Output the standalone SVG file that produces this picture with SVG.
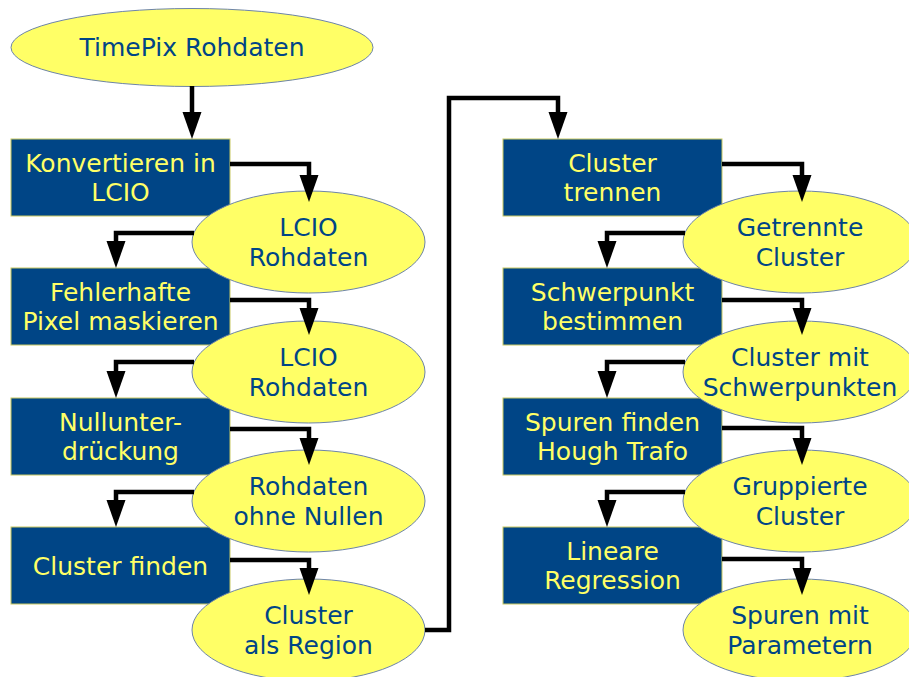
<svg xmlns="http://www.w3.org/2000/svg" width="909" height="677" viewBox="0 0 909 677">
  <style>
    .step rect { fill: #004586; stroke: #c8c860; stroke-width: 1; }
    .step text { fill: #ffff66; }
    .data ellipse { fill: #ffff66; stroke: #6d84a8; stroke-width: 1; }
    .data text { fill: #004586; }
    text { font-family: "DejaVu Sans", Verdana, sans-serif; font-size: 25px; text-anchor: middle; }
    #connectors path { fill: none; stroke: #000; stroke-width: 4.5; stroke-linejoin: miter; marker-end: url(#arrow); }
  </style>
  <defs>
    <marker id="arrow" markerUnits="userSpaceOnUse" markerWidth="28" markerHeight="20" refX="0" refY="10" orient="auto" overflow="visible">
      <path d="M0,0.5 L27,10 L0,19.5 Z" fill="#000"/>
    </marker>
  </defs>

  <rect width="909" height="677" fill="#fff"/>

  <!-- source data -->
  <g id="timepix" class="data">
    <ellipse cx="192" cy="47.5" rx="181" ry="39"/>
    <text x="192" y="56">TimePix Rohdaten</text>
  </g>

  <!-- left column: processing steps -->
  <g id="konvertieren" class="step">
    <rect x="11" y="139" width="219" height="77"/>
    <text x="120.5" y="172">Konvertieren in</text>
    <text x="120.5" y="201">LCIO</text>
  </g>
  <g id="maskieren" class="step">
    <rect x="11" y="268" width="219" height="77"/>
    <text x="120.5" y="301">Fehlerhafte</text>
    <text x="120.5" y="330">Pixel maskieren</text>
  </g>
  <g id="nullunterdrueckung" class="step">
    <rect x="11" y="398" width="219" height="77"/>
    <text x="120.5" y="431">Nullunter-</text>
    <text x="120.5" y="460">drückung</text>
  </g>
  <g id="cluster-finden" class="step">
    <rect x="11" y="527" width="219" height="77"/>
    <text x="120.5" y="574.5">Cluster finden</text>
  </g>

  <!-- left column: intermediate data -->
  <g id="lcio-rohdaten-1" class="data">
    <ellipse cx="308.5" cy="242" rx="116.5" ry="51"/>
    <text x="308.5" y="236">LCIO</text>
    <text x="308.5" y="266">Rohdaten</text>
  </g>
  <g id="lcio-rohdaten-2" class="data">
    <ellipse cx="308.5" cy="372" rx="116.5" ry="51"/>
    <text x="308.5" y="366">LCIO</text>
    <text x="308.5" y="396">Rohdaten</text>
  </g>
  <g id="ohne-nullen" class="data">
    <ellipse cx="308.5" cy="501" rx="116.5" ry="51"/>
    <text x="308.5" y="495">Rohdaten</text>
    <text x="308.5" y="525">ohne Nullen</text>
  </g>
  <g id="cluster-region" class="data">
    <ellipse cx="308.5" cy="630" rx="116.5" ry="51"/>
    <text x="308.5" y="624">Cluster</text>
    <text x="308.5" y="654">als Region</text>
  </g>

  <!-- right column: processing steps -->
  <g id="cluster-trennen" class="step">
    <rect x="503" y="139" width="219" height="77"/>
    <text x="612.5" y="172">Cluster</text>
    <text x="612.5" y="201">trennen</text>
  </g>
  <g id="schwerpunkt" class="step">
    <rect x="503" y="268" width="219" height="77"/>
    <text x="612.5" y="301">Schwerpunkt</text>
    <text x="612.5" y="330">bestimmen</text>
  </g>
  <g id="spuren-finden" class="step">
    <rect x="503" y="398" width="219" height="77"/>
    <text x="612.5" y="431">Spuren finden</text>
    <text x="612.5" y="460">Hough Trafo</text>
  </g>
  <g id="regression" class="step">
    <rect x="503" y="527" width="219" height="77"/>
    <text x="612.5" y="560">Lineare</text>
    <text x="612.5" y="589">Regression</text>
  </g>

  <!-- right column: intermediate data -->
  <g id="getrennte-cluster" class="data">
    <ellipse cx="800" cy="242" rx="117" ry="51"/>
    <text x="800" y="236">Getrennte</text>
    <text x="800" y="266">Cluster</text>
  </g>
  <g id="cluster-schwerpunkte" class="data">
    <ellipse cx="800" cy="372" rx="117" ry="51"/>
    <text x="800" y="366">Cluster mit</text>
    <text x="800" y="396">Schwerpunkten</text>
  </g>
  <g id="gruppierte-cluster" class="data">
    <ellipse cx="800" cy="501" rx="117" ry="51"/>
    <text x="800" y="495">Gruppierte</text>
    <text x="800" y="525">Cluster</text>
  </g>
  <g id="spuren-parameter" class="data">
    <ellipse cx="800" cy="630" rx="117" ry="51"/>
    <text x="800" y="624">Spuren mit</text>
    <text x="800" y="654">Parametern</text>
  </g>

  <!-- flow connectors (paths end at the arrowhead base) -->
  <g id="connectors">
    <path d="M192,86 V112"/>
    <path d="M230,164 H309 V175"/>
    <path d="M194,233 H116 V241"/>
    <path d="M230,300 H309 V308"/>
    <path d="M194,362 H116 V371"/>
    <path d="M230,429 H309 V438"/>
    <path d="M194,492 H116 V500"/>
    <path d="M230,560 H309 V568"/>
    <path d="M425,630 H449 V98 H558 V112"/>
    <path d="M722,164 H802 V175"/>
    <path d="M685,233 H607 V241"/>
    <path d="M722,300 H802 V308"/>
    <path d="M685,362 H607 V371"/>
    <path d="M722,428 H802 V438"/>
    <path d="M685,492 H607 V500"/>
    <path d="M722,559 H802 V568"/>
  </g>
</svg>
